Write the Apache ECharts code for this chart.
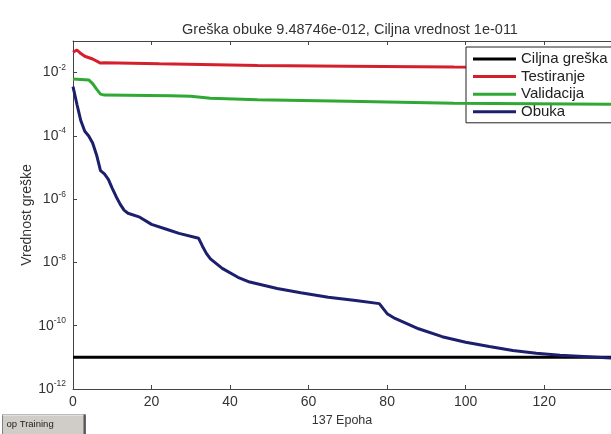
<!DOCTYPE html>
<html>
<head>
<meta charset="utf-8">
<script src="https://cdn.jsdelivr.net/npm/echarts@6/dist/echarts.min.js"></script>
<style>html,body{margin:0;padding:0;background:#fff;}#c{width:611px;height:434px;}</style>
</head>
<body>
<div id="c"></div>
<script>
var titleText = 'Greška obuke 9.48746e-012, Ciljna vrednost 1e-011';
var seriesNames = ['Ciljna greška', 'Testiranje', 'Validacija', 'Obuka'];
var xTicks = [0, 20, 40, 60, 80, 100, 120];
var yTickExponents = [-12, -10, -8, -6, -4, -2];

var goal = [[0, 1e-11], [137, 1e-11]];
var testData = [[0,4.4e-2],[1,5.2e-2],[2,4.0e-2],[3,3.3e-2],[5,2.7e-2],[7,2.0e-2],[8,2.05e-2],[22,1.9e-2],[47,1.68e-2],[70,1.6e-2],[97,1.5e-2],[137,1.42e-2]];
var valData = [[0,6.3e-3],[4,5.9e-3],[5,4.5e-3],[6,3.0e-3],[7,2.1e-3],[8,1.95e-3],[25,1.85e-3],[30,1.8e-3],[35,1.55e-3],[47,1.38e-3],[70,1.25e-3],[97,1.07e-3],[137,1.0e-3]];
var trainData = [[0,3.6e-3],[1,1.0e-3],[2,3.0e-4],[3,1.4e-4],[4,1.0e-4],[5,6e-5],[6,2.5e-5],[7,8e-6],[8,6.3e-6],[9,4.2e-6],[10,2.2e-6],[11,1.2e-6],[12,7e-7],[13,4.5e-7],[14,3.6e-7],[17,2.7e-7],[20,1.6e-7],[24,1.1e-7],[27,8.3e-8],[32,5.8e-8],[33,3.2e-8],[34,1.9e-8],[35,1.3e-8],[38,6.5e-9],[42,3.4e-9],[45,2.4e-9],[52,1.5e-9],[58,1.1e-9],[65,8e-10],[72,6.3e-10],[78,5e-10],[80,2.4e-10],[82,1.7e-10],[88,8e-11],[94,4.5e-11],[100,3e-11],[106,2.2e-11],[112,1.66e-11],[118,1.35e-11],[124,1.17e-11],[130,1.06e-11],[137,9.49e-12]];

var colors = ['#000000', '#d4202c', '#2fa834', '#1c1f6e'];
var FONT = 'Liberation Sans, Arial, sans-serif';
var chart = echarts.init(document.getElementById('c'), null, {renderer: 'canvas'});

function yLabel(v) {
  var e = Math.round(Math.log(v) / Math.LN10);
  if (yTickExponents.indexOf(e) < 0) return '';
  return '{a|10}{b|' + e + '}';
}

chart.setOption({
  backgroundColor: '#ffffff',
  animation: false,
  title: {
    text: titleText, left: 345, top: 17, textAlign: 'center',
    textStyle: {fontFamily: FONT, fontSize: 14.5, fontWeight: 'normal', color: '#333'}
  },
  legend: {
    data: seriesNames, orient: 'vertical', left: 466, top: 47,
    padding: [4, 12, 3, 7], itemGap: 1.6, itemWidth: 43, itemHeight: 3, icon: 'rect',
    backgroundColor: '#fff', borderColor: '#222', borderWidth: 1, borderRadius: 0,
    textStyle: {fontFamily: FONT, fontSize: 15, color: '#222', lineHeight: 16}
  },
  grid: {left: 73, top: 41, right: -6, bottom: 45},
  xAxis: [{
    type: 'value', min: 0, max: 137, interval: 20, position: 'bottom',
    name: '137 Epoha', nameLocation: 'middle', nameGap: 25, nameMoveOverlap: false,
    nameTextStyle: {fontFamily: FONT, fontSize: 12.5, color: '#333'},
    axisLine: {show: true, lineStyle: {color: '#444', width: 1}},
    axisTick: {show: true, inside: true, length: 4, lineStyle: {color: '#444'}},
    axisLabel: {fontFamily: FONT, fontSize: 14, color: '#333', margin: 6, showMaxLabel: false,
      formatter: function (v) { return xTicks.indexOf(v) >= 0 ? String(v) : ''; }},
    splitLine: {show: false}
  }, {
    type: 'value', min: 0, max: 137, interval: 20, position: 'top',
    axisLine: {show: true, onZero: false, lineStyle: {color: '#444', width: 1}},
    axisTick: {show: true, inside: true, length: 4, lineStyle: {color: '#444'}},
    axisLabel: {show: false}, splitLine: {show: false}
  }],
  yAxis: [{
    type: 'log', logBase: 100, min: 1e-12, max: 1e-1,
    name: 'Vrednost greške', nameLocation: 'middle', nameGap: 39, nameRotate: 90, nameMoveOverlap: false,
    nameTextStyle: {fontFamily: FONT, fontSize: 14, color: '#333'},
    axisLine: {show: true, lineStyle: {color: '#444', width: 1}},
    axisTick: {show: true, inside: true, length: 4, lineStyle: {color: '#444'}},
    axisLabel: {
      margin: 7, showMaxLabel: false, formatter: yLabel,
      rich: {
        a: {fontFamily: FONT, fontSize: 14, color: '#333'},
        b: {fontFamily: FONT, fontSize: 8.5, color: '#333', padding: [0, 0, 10, 0]}
      }
    },
    splitLine: {show: false}
  }],
  series: [
    {name: seriesNames[0], type: 'line', data: goal, showSymbol: false, symbol: 'none',
      lineStyle: {color: colors[0], width: 3}, itemStyle: {color: colors[0]}, z: 2},
    {name: seriesNames[1], type: 'line', data: testData, showSymbol: false, symbol: 'none',
      lineStyle: {color: colors[1], width: 3}, itemStyle: {color: colors[1]}, z: 3},
    {name: seriesNames[2], type: 'line', data: valData, showSymbol: false, symbol: 'none',
      lineStyle: {color: colors[2], width: 3}, itemStyle: {color: colors[2]}, z: 4},
    {name: seriesNames[3], type: 'line', data: trainData, showSymbol: false, symbol: 'none',
      lineStyle: {color: colors[3], width: 3}, itemStyle: {color: colors[3]}, z: 5}
  ],
  graphic: [{
    type: 'group', left: 0, top: 412,
    children: [
      {type: 'rect', shape: {x: 0, y: 0, width: 83, height: 20},
        style: {fill: '#d0cdc8', stroke: '#808080', lineWidth: 1}},
      {type: 'line', shape: {x1: 0, y1: 0.5, x2: 83, y2: 0.5}, style: {stroke: '#f4f4f4', lineWidth: 1}},
      {type: 'line', shape: {x1: 82, y1: 0, x2: 82, y2: 20}, style: {stroke: '#555', lineWidth: 2}},
      {type: 'text', style: {text: 'op Training', x: 4, y: 10, fontFamily: FONT, fontSize: 9.5,
        fill: '#222', verticalAlign: 'middle'}}
    ]
  }]
});
</script>
</body>
</html>
